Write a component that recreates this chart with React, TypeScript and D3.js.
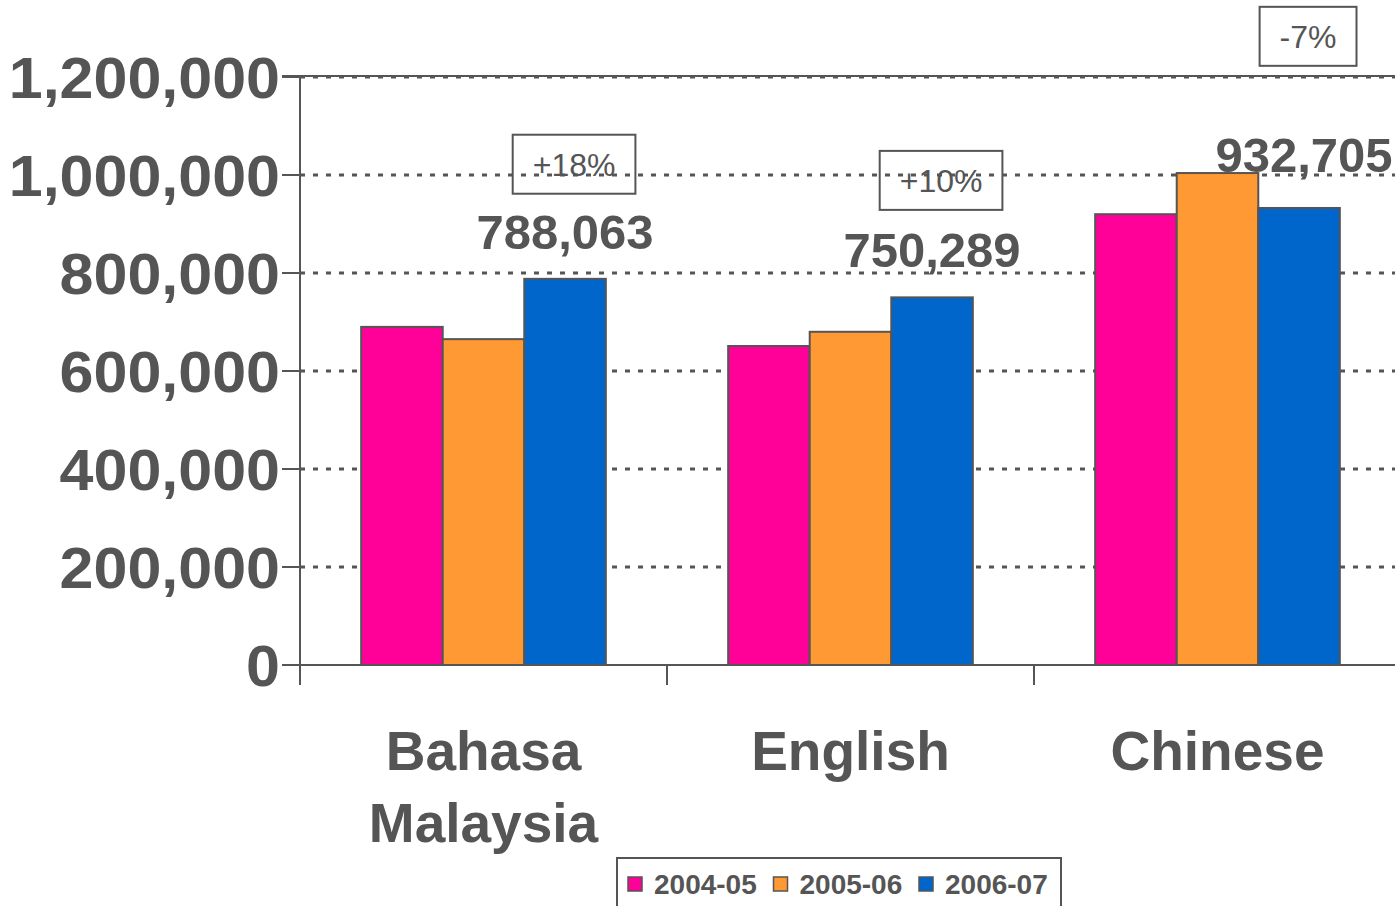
import React from "react";
import * as d3 from "d3";

const categories = ["Bahasa Malaysia", "English", "Chinese"];
const categoryLines = [["Bahasa", "Malaysia"], ["English"], ["Chinese"]];
const seriesNames = ["2004-05", "2005-06", "2006-07"];
const seriesColors = ["#FF0099", "#FF9933", "#0066CC"];
const values2004 = [690000, 651000, 920000];
const values2005 = [665000, 680000, 1004000];
const values2006 = [788063, 750289, 932705];
const seriesValues = [values2004, values2005, values2006];
const yTicks = [0, 200000, 400000, 600000, 800000, 1000000, 1200000];
const changeLabels = ["+18%", "+10%", "-7%"];
const changeAnchors = [1022000, 989000, 1283000];

const W = 1395;
const H = 906;
const GRAY = "#555555";
const FONT = "'Liberation Sans', Arial, Helvetica, sans-serif";

// approximate Arial regular widths (em) for box sizing
const cw: Record<string, number> = { "+": 0.584, "-": 0.333, "%": 0.889 };
const textW = (s: string, fs: number) =>
  s.split("").reduce((a, c) => a + (cw[c] ?? 0.556), 0) * fs;

export default function App() {
  const x0 = 300;
  const x1 = 1401;
  const yTop = 77;
  const yBot = 665;
  const x = d3.scaleBand<string>().domain(categories).range([x0, x1]).paddingInner(0).paddingOuter(0);
  const inner = d3
    .scaleBand<string>()
    .domain(seriesNames)
    .range([x.bandwidth() / 6, (x.bandwidth() * 5) / 6]);
  const y = d3.scaleLinear().domain([0, 1200000]).range([yBot, yTop]);
  const fmt = d3.format(",");

  return (
    <svg
      width={W}
      height={H}
      style={{ position: "absolute", left: 0, top: 0, background: "#fff" }}
      fontFamily={FONT}
    >
      {/* gridlines */}
      {yTicks.slice(1).map((t) => (
        <line
          key={"g" + t}
          x1={x0}
          x2={W}
          y1={y(t)}
          y2={y(t)}
          stroke={GRAY}
          strokeWidth={3}
          strokeDasharray="5,8"
        />
      ))}
      <line x1={282} x2={W} y1={y(1200000) - 1} y2={y(1200000) - 1} stroke={GRAY} strokeWidth={2} />
      {/* y tick marks & labels */}
      {yTicks.map((t) => (
        <g key={"t" + t}>
          <line x1={282} x2={x0} y1={y(t)} y2={y(t)} stroke={GRAY} strokeWidth={2} />
          <g transform={`translate(280,${y(t)}) scale(1.07,1)`}>
            <text x={0} y={0} dy="0.36em" textAnchor="end" fontSize={57} fontWeight="bold" fill={GRAY}>
              {fmt(t)}
            </text>
          </g>
        </g>
      ))}
      {/* bars */}
      {categories.map((c, ci) => (
        <g key={c} transform={`translate(${x(c)},0)`}>
          {seriesNames.map((s, si) => {
            const v = seriesValues[si][ci];
            return (
              <rect
                key={s}
                x={inner(s)}
                y={y(v)}
                width={inner.bandwidth()}
                height={yBot - y(v)}
                fill={seriesColors[si]}
                stroke={GRAY}
                strokeWidth={2}
              />
            );
          })}
        </g>
      ))}
      {/* axes */}
      <line x1={282} x2={W} y1={yBot} y2={yBot} stroke={GRAY} strokeWidth={2} />
      <line x1={x0} x2={x0} y1={yTop} y2={yBot + 20} stroke={GRAY} strokeWidth={2} />
      {categories.map((c) => (
        <line
          key={"ct" + c}
          x1={(x(c) as number) + x.bandwidth()}
          x2={(x(c) as number) + x.bandwidth()}
          y1={yBot}
          y2={yBot + 20}
          stroke={GRAY}
          strokeWidth={2}
        />
      ))}
      {/* category labels */}
      {categories.map((c, ci) => (
        <text
          key={"cl" + c}
          x={(x(c) as number) + x.bandwidth() / 2}
          y={770}
          textAnchor="middle"
          fontSize={55}
          fontWeight="bold"
          fill={GRAY}
        >
          {categoryLines[ci].map((l, li) => (
            <tspan key={l} x={(x(c) as number) + x.bandwidth() / 2} dy={li === 0 ? 0 : 72}>
              {l}
            </tspan>
          ))}
        </text>
      ))}
      {/* value labels on last series */}
      {categories.map((c, ci) => {
        const v = seriesValues[2][ci];
        const cx = (x(c) as number) + (inner(seriesNames[2]) as number) + inner.bandwidth() / 2;
        return (
          <text
            key={"vl" + c}
            x={cx + (ci === 2 ? 5 : 0)}
            y={y(v) - (ci === 2 ? 36 : 30)}
            textAnchor="middle"
            fontSize={49}
            fontWeight="bold"
            fill={GRAY}
          >
            {fmt(v)}
          </text>
        );
      })}
      {/* change boxes */}
      {categories.map((c, ci) => {
        const lab = changeLabels[ci];
        const cx = (x(c) as number) + (inner(seriesNames[2]) as number) + inner.bandwidth() / 2 + 9;
        const cy = y(changeAnchors[ci]);
        const bw = textW(lab, 32) + 40;
        const bh = 59;
        return (
          <g key={"cb" + c}>
            <rect
              x={cx - bw / 2}
              y={cy - bh / 2}
              width={bw}
              height={bh}
              fill="none"
              stroke={GRAY}
              strokeWidth={2}
            />
            <text x={cx} y={cy} dy="0.36em" textAnchor="middle" fontSize={32} fill={GRAY}>
              {lab}
            </text>
          </g>
        );
      })}
      {/* legend */}
      <rect x={617} y={858} width={444} height={60} fill="#fff" stroke={GRAY} strokeWidth={2} />
      {seriesNames.map((s, si) => {
        const lx = 628 + si * 145.5;
        return (
          <g key={"lg" + s}>
            <rect x={lx} y={877} width={14} height={14} fill={seriesColors[si]} stroke={GRAY} strokeWidth={1.5} />
            <text x={lx + 26} y={894} fontSize={28} fontWeight="bold" fill={GRAY}>
              {s}
            </text>
          </g>
        );
      })}
    </svg>
  );
}
